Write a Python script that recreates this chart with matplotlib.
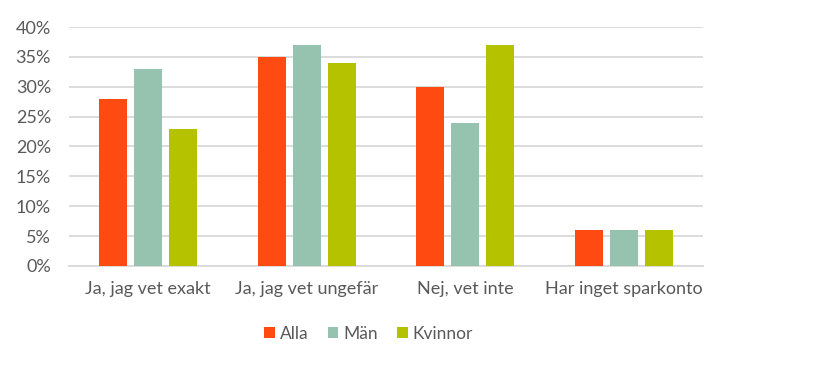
import numpy as np
import matplotlib.pyplot as plt
from matplotlib.ticker import PercentFormatter

# data
kategorier = ['Ja, jag vet exakt', 'Ja, jag vet ungefär', 'Nej, vet inte', 'Har inget sparkonto']
alla = [28, 35, 30, 6]
man = [33, 37, 24, 6]
kvinnor = [23, 34, 37, 6]
serier = ['Alla', 'Män', 'Kvinnor']
farger = ['#FF4B12', '#95C3AF', '#B5C200']

plt.rcParams['font.family'] = ['Lato', 'DejaVu Sans']
textfarg = '#595959'

fig = plt.figure(figsize=(8.16, 3.81), dpi=100)
ax = fig.add_axes([0.0846, 0.302, 0.777, 0.627])

x = np.arange(len(kategorier))
bredd = 0.177
steg = 0.221
for i, (namn, varden, f) in enumerate(zip(serier, [alla, man, kvinnor], farger)):
    ax.bar(x + (i - 1) * steg, varden, width=bredd, color=f, label=namn, zorder=3)

ax.set_xlim(-0.5, len(kategorier) - 0.5)
ax.set_ylim(0, 40)
ax.set_yticks(np.arange(0, 41, 5))
ax.yaxis.set_major_formatter(PercentFormatter(decimals=0))
ax.set_xticks(x)
ax.set_xticklabels(kategorier)
ax.grid(axis='y', color='#D9D9D9', linewidth=1.3, zorder=0)
for s in ['top', 'right', 'left']:
    ax.spines[s].set_visible(False)
ax.spines['bottom'].set_color('#D9D9D9')
ax.spines['bottom'].set_linewidth(1.3)
ax.tick_params(axis='both', length=0, labelsize=13, colors=textfarg)
ax.tick_params(axis='y', pad=13)
ax.tick_params(axis='x', pad=11)

leg = fig.legend(loc='center', bbox_to_anchor=(0.452, 0.124), ncol=3, frameon=False,
                 fontsize=12.5, handlelength=0.6, handleheight=0.6, handletextpad=0.3,
                 columnspacing=1.1)
for t in leg.get_texts():
    t.set_color(textfarg)

fig.savefig('out.png', dpi=100)
